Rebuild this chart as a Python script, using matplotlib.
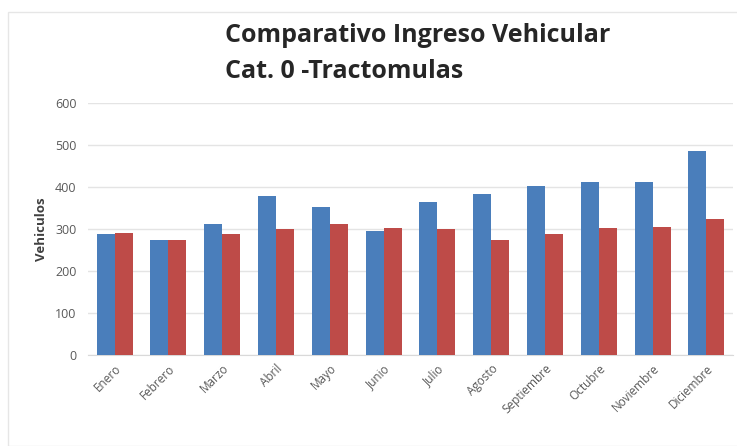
import numpy as np
import matplotlib.pyplot as plt
from matplotlib.patches import Rectangle

meses = ['Enero', 'Febrero', 'Marzo', 'Abril', 'Mayo', 'Junio', 'Julio',
         'Agosto', 'Septiembre', 'Octubre', 'Noviembre', 'Diciembre']
serie_azul = [288, 274, 312, 378, 352, 294, 363, 383, 401, 411, 411, 484]
serie_roja = [290, 274, 287, 300, 312, 303, 300, 274, 288, 303, 305, 323]
y_ticks = [0, 100, 200, 300, 400, 500, 600]

plt.rcParams['font.family'] = ['Open Sans', 'DejaVu Sans']

fig = plt.figure(figsize=(7.37, 4.46), dpi=100)
fig.patches.append(Rectangle((8 / 737, 0.0), 1, 1 - 12 / 446, transform=fig.transFigure,
                             fill=False, edgecolor='#e6e6e6', linewidth=1))
ax = fig.add_axes([0.119, 0.204, 0.876, 0.566])

x = np.arange(len(meses))
w = 0.335
ax.bar(x - w / 2, serie_azul, w, color='#4a7ebb', zorder=3)
ax.bar(x + w / 2, serie_roja, w, color='#be4b48', zorder=3)

ax.set_xlim(-0.5, len(meses) - 0.5)
ax.set_ylim(0, 600)
ax.set_yticks(y_ticks)
ax.set_yticklabels([str(v) for v in y_ticks], fontsize=9, color='#595959')
ax.set_xticks(x)
ax.set_xticklabels(meses, rotation=45, ha='right', va='top', rotation_mode='anchor',
                   fontsize=8.5, color='#595959')
ax.tick_params(axis='y', length=0, pad=8)
ax.tick_params(axis='x', length=0, pad=5)
ax.grid(axis='y', color='#e4e4e4', linewidth=1, zorder=0)
for s in ['top', 'right', 'left']:
    ax.spines[s].set_visible(False)
ax.spines['bottom'].set_color('#d9d9d9')
ax.set_ylabel('Vehiculos', fontsize=9.5, fontweight='bold', color='#404040', labelpad=5)

fig.text(225 / 737, 1 - 35 / 446, 'Comparativo Ingreso Vehicular', fontsize=18,
         fontweight='bold', color='#262626', va='center', ha='left')
fig.text(225 / 737, 1 - 72 / 446, 'Cat. 0 -Tractomulas', fontsize=18,
         fontweight='bold', color='#262626', va='center', ha='left')

fig.savefig('out.png', dpi=100)
